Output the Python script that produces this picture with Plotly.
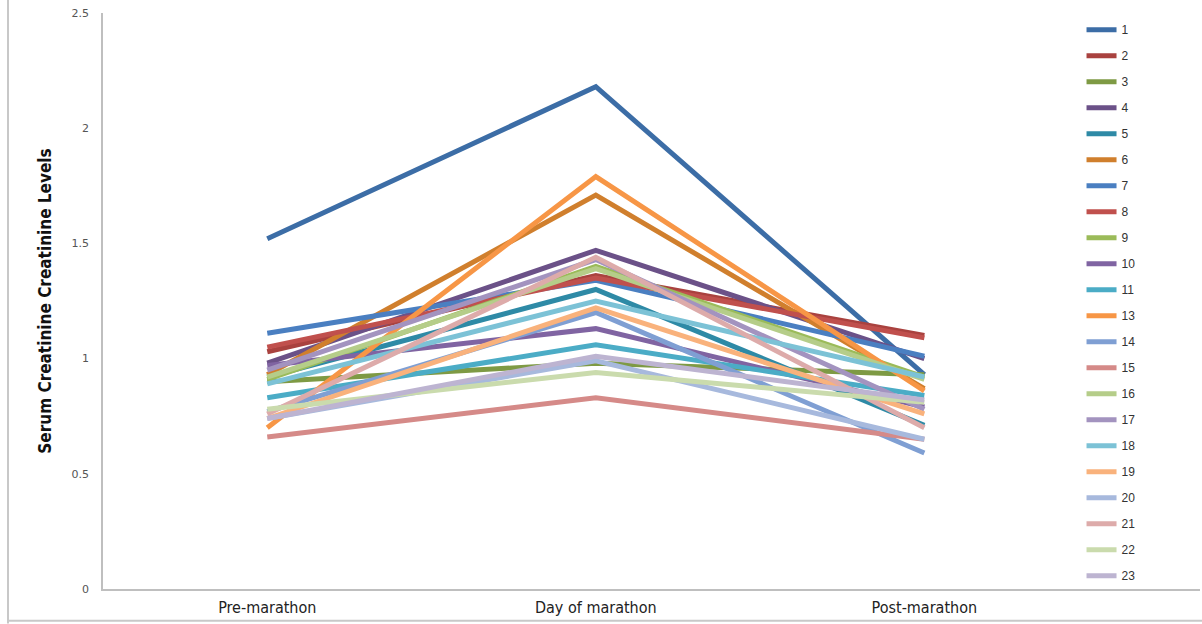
import plotly.graph_objects as go

# Time points of the study
stages = ["Pre-marathon", "Day of marathon", "Post-marathon"]

# Runner IDs (no runner 12 in the data set)
runners = ["1", "2", "3", "4", "5", "6", "7", "8", "9", "10", "11",
           "13", "14", "15", "16", "17", "18", "19", "20", "21", "22", "23"]

# Serum creatinine per runner: pre, day of, post
pre_marathon = [1.52, 1.03, 0.90, 0.98, 0.92, 0.93, 1.11, 1.05, 0.91, 0.97, 0.83,
                0.70, 0.77, 0.66, 0.92, 0.95, 0.89, 0.74, 0.74, 0.76, 0.78, 0.74]
day_of_marathon = [2.18, 1.36, 0.98, 1.47, 1.30, 1.71, 1.34, 1.35, 1.40, 1.13, 1.06,
                   1.79, 1.20, 0.83, 1.39, 1.43, 1.25, 1.22, 0.99, 1.44, 0.94, 1.01]
post_marathon = [0.93, 1.10, 0.93, 1.00, 0.71, 0.87, 1.01, 1.09, 0.92, 0.79, 0.84,
                 0.86, 0.59, 0.65, 0.91, 0.78, 0.92, 0.76, 0.65, 0.70, 0.81, 0.82]

colors = ["#3C6DA6", "#A9423F", "#7E9A44", "#6B5188", "#2E8AA6", "#D07F2D",
          "#4A7FC1", "#C0504D", "#9BBB59", "#8064A2", "#4BACC6",
          "#F79646", "#7F9FD3", "#D58A88", "#B5CD89", "#A393BF", "#7CC2D6",
          "#F9B27C", "#A7B9DD", "#DDABAA", "#CADBAD", "#BDB4D1"]

fig = go.Figure()
for i, name in enumerate(runners):
    fig.add_trace(go.Scatter(
        x=[0, 1, 2],
        y=[pre_marathon[i], day_of_marathon[i], post_marathon[i]],
        mode="lines",
        name=name,
        legendgroup=name,
        line=dict(color=colors[i], width=5),
        hoverinfo="name+y",
    ))

fig.update_layout(
    width=1202, height=624,
    margin=dict(l=103, r=2, t=13, b=35),
    paper_bgcolor="white",
    plot_bgcolor="white",
    showlegend=True,
    legend=dict(
        x=0.892, y=0.996, xanchor="left", yanchor="top",
        bgcolor="rgba(0,0,0,0)",
        font=dict(family="Liberation Sans", size=12, color="#333333"),
        tracegroupgap=7,
        itemwidth=30,
    ),
    xaxis=dict(
        range=[-0.5, 2.839],
        tickmode="array",
        tickvals=[0, 1, 2],
        ticktext=stages,
        showgrid=False, zeroline=False,
        showline=True, linecolor="#BFBFBF", linewidth=1.5,
        ticks="",
        ticklabelstandoff=3,
        tickfont=dict(family="DejaVu Sans Condensed, Liberation Sans", size=16, color="#222222"),
    ),
    yaxis=dict(
        range=[0, 2.5],
        tickvals=[0, 0.5, 1, 1.5, 2, 2.5],
        ticktext=["0", "0.5", "1", "1.5", "2", "2.5"],
        showgrid=False, zeroline=False,
        showline=True, linecolor="#BFBFBF", linewidth=1.5,
        ticks="",
        ticklabelstandoff=10,
        tickfont=dict(family="DejaVu Sans", size=11, color="#555555"),
        title=dict(
            text="<b>Serum Creatinine Creatinine Levels</b>",
            font=dict(family="DejaVu Sans Condensed, Liberation Sans", size=17, color="#111111"),
            standoff=16,
        ),
    ),
    shapes=[
        dict(type="line", xref="paper", yref="paper",
             x0=-0.0866, x1=-0.0866, y0=-0.06, y1=1.03,
             line=dict(color="#C8C8C8", width=2)),
        dict(type="line", xref="paper", yref="paper",
             x0=-0.0866, x1=1.01, y0=-0.055, y1=-0.055,
             line=dict(color="#C8C8C8", width=2)),
    ],
)

fig.write_html("out.html")
